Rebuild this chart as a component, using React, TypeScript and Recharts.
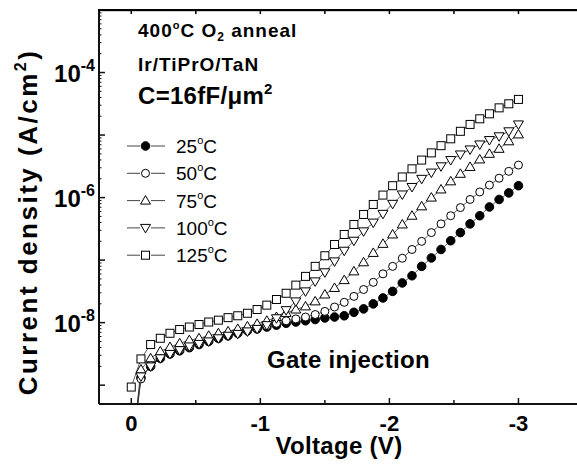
import React from 'react';
import { LineChart, Line, XAxis, YAxis } from 'recharts';

// gate voltage (V), 0 to -3 V sweep
const voltages = [
  0, -0.075, -0.15, -0.225, -0.3, -0.375, -0.45, -0.525, -0.6, -0.675,
  -0.75, -0.825, -0.9, -0.975, -1.05, -1.125, -1.2, -1.275, -1.35, -1.425,
  -1.5, -1.575, -1.65, -1.725, -1.8, -1.875, -1.95, -2.025, -2.1, -2.175,
  -2.25, -2.325, -2.4, -2.475, -2.55, -2.625, -2.7, -2.775, -2.85, -2.925, -3,
];

// current density, read as log10(A/cm2)
const logJ25 = [
  -10.0, -8.88, -8.7, -8.57, -8.5, -8.45, -8.4, -8.35, -8.3, -8.25,
  -8.21, -8.17, -8.13, -8.1, -8.07, -8.04, -8.01, -7.99, -7.97, -7.95,
  -7.925, -7.91, -7.89, -7.835, -7.78, -7.7, -7.605, -7.5, -7.365, -7.25,
  -7.1, -6.965, -6.83, -6.69, -6.56, -6.42, -6.29, -6.15, -6.03, -5.925, -5.81,
];
const logJ50 = [
  -10.1, -8.9, -8.68, -8.55, -8.48, -8.43, -8.38, -8.33, -8.28, -8.23,
  -8.19, -8.15, -8.12, -8.09, -8.05, -8.01, -7.97, -7.94, -7.91, -7.87,
  -7.82, -7.75, -7.675, -7.58, -7.47, -7.355, -7.22, -7.1, -6.97, -6.83,
  -6.7, -6.56, -6.42, -6.29, -6.16, -6.03, -5.91, -5.8, -5.69, -5.58, -5.48,
];
const logJ75 = [
  -10.2, -8.75, -8.57, -8.46, -8.39, -8.33, -8.28, -8.25, -8.21, -8.17,
  -8.14, -8.1, -8.06, -8.02, -7.97, -7.91, -7.845, -7.79, -7.74, -7.66,
  -7.55, -7.445, -7.32, -7.18, -7.035, -6.885, -6.74, -6.59, -6.43, -6.29,
  -6.14, -6.0, -5.87, -5.74, -5.62, -5.51, -5.39, -5.3, -5.22, -5.1, -4.99,
];
const logJ100 = [
  -10.3, -8.86, -8.7, -8.57, -8.5, -8.44, -8.38, -8.34, -8.3, -8.25,
  -8.21, -8.18, -8.14, -8.1, -8.04, -7.93, -7.8, -7.66, -7.5, -7.34,
  -7.195, -7.02, -6.85, -6.69, -6.54, -6.4, -6.26, -6.1, -5.95, -5.83,
  -5.7, -5.6, -5.5, -5.4, -5.31, -5.23, -5.15, -5.08, -5.02, -4.94, -4.83,
];
const logJ125 = [
  -9.03, -8.58, -8.35, -8.25, -8.17, -8.11, -8.07, -8.03, -7.99, -7.96,
  -7.92, -7.89, -7.85, -7.79, -7.72, -7.63, -7.53, -7.4, -7.26, -7.1,
  -6.93, -6.75, -6.59, -6.43, -6.27, -6.11, -5.96, -5.81, -5.67, -5.54,
  -5.4, -5.285, -5.17, -5.06, -4.94, -4.83, -4.74, -4.66, -4.565, -4.5, -4.43,
];

const seriesNames = ['25°C', '50°C', '75°C', '100°C', '125°C'];
const seriesLogs = [logJ25, logJ50, logJ75, logJ100, logJ125];
const seriesShapes = ['filled', 'circle', 'up', 'down', 'square'];

const xTicks = [0, -0.5, -1, -1.5, -2, -2.5, -3, -3.5];
const xLabeled = [0, -1, -2, -3];
const yDecades = [-9, -8, -7, -6, -5, -4, -3];
const yLabeled = [-8, -6, -4];

const X_DOMAIN = [-3.5, 0.25];
const Y_MIN = 5e-10;
const Y_MAX = 1e-3;

// chart frame
const CHART_W = 600;
const PLOT_LEFT = 99;
const PLOT_RIGHT_MARGIN = 17;
const PLOT_TOP = 10;

const yTicks: number[] = [];
yDecades.forEach((d) => {
  for (let m = 1; m <= 9; m++) {
    const v = m * Math.pow(10, d);
    if (v <= 1.0001e-3) yTicks.push(v);
  }
});

const data = voltages.map((v, i) => {
  const row: any = { v };
  seriesLogs.forEach((arr, k) => {
    row['s' + k] = Math.pow(10, arr[i]);
  });
  return row;
});

const FONT = 'Arial, "Liberation Sans", Helvetica, sans-serif';
const AXIS = '#111';

const marker = (shape: string, cx: number, cy: number, key?: any) => {
  const common = { stroke: '#000', strokeWidth: 1 };
  switch (shape) {
    case 'filled':
      return <circle key={key} cx={cx} cy={cy} r={4.3} fill="#000" {...common} />;
    case 'circle':
      return <circle key={key} cx={cx} cy={cy} r={4} fill="#fff" {...common} />;
    case 'up':
      return (
        <path key={key} d={`M${cx - 5},${cy + 3.5}L${cx + 5},${cy + 3.5}L${cx},${cy - 5}Z`} fill="#fff" {...common} />
      );
    case 'down':
      return (
        <path key={key} d={`M${cx - 5},${cy - 3.5}L${cx + 5},${cy - 3.5}L${cx},${cy + 5}Z`} fill="#fff" {...common} />
      );
    default:
      return <rect key={key} x={cx - 4} y={cy - 4} width={8} height={8} fill="#fff" {...common} />;
  }
};

const XTick = (props: any) => {
  const { x, y, payload } = props;
  const v = payload.value;
  const major = Number.isInteger(v);
  return (
    <g>
      <line x1={x} x2={x} y1={y} y2={y - (major ? 6 : 4)} stroke={AXIS} strokeWidth={1.5} />
      {xLabeled.includes(v) && (
        <text x={x} y={y + 26.5} textAnchor="middle" fontFamily={FONT} fontWeight="bold" fontSize={22} fill="#000">
          {v === 0 ? '0' : String(v)}
        </text>
      )}
    </g>
  );
};

const YTick = (props: any) => {
  const { x, y, payload } = props;
  const v = payload.value;
  const exp = Math.round(Math.log10(v));
  const major = Math.abs(v / Math.pow(10, exp) - 1) < 1e-6;
  return (
    <g>
      <line x1={x} x2={x + (major ? 6 : 2.5)} y1={y} y2={y} stroke={AXIS} strokeWidth={major ? 1.5 : 1} />
      {major && yLabeled.includes(exp) && (
        <text x={x - 4} y={y + 9} textAnchor="end" fontFamily={FONT} fontWeight="bold" fontSize={24} fill="#000">
          10
          <tspan dy={-11} fontSize={16}>
            {String(exp)}
          </tspan>
        </text>
      )}
    </g>
  );
};

// top frame (mirror of the voltage axis, ticks only)
const topX = (v: number) => {
  const w = CHART_W - PLOT_RIGHT_MARGIN - PLOT_LEFT;
  return PLOT_LEFT + ((X_DOMAIN[1] - v) / (X_DOMAIN[1] - X_DOMAIN[0])) * w;
};

const Overlay = () => (
  <svg
    width={577}
    height={464}
    viewBox="0 0 577 464"
    style={{ position: 'absolute', left: 0, top: 0, pointerEvents: 'none' }}
  >
    <rect x={PLOT_LEFT - 1} y={PLOT_TOP - 1} width={CHART_W - PLOT_LEFT} height={2.2} fill="#000" />
    {xTicks.map((t) => (
      <rect key={t} x={topX(t) - 0.75} y={PLOT_TOP} width={1.5} height={4} fill="#000" />
    ))}
    <g fontFamily={FONT} fill="#000">
      <text x={138} y={37} fontWeight="bold" fontSize={19} letterSpacing={1}>
        400
        <tspan fontSize={11} dy={-8}>o</tspan>
        <tspan dy={8}>C O</tspan>
        <tspan fontSize={12} dy={4}>2</tspan>
        <tspan dy={-4}> anneal</tspan>
      </text>
      <text x={138} y={71} fontWeight="bold" fontSize={19} letterSpacing={1}>Ir/TiPrO/TaN</text>
      <text x={138} y={104} fontWeight="bold" fontSize={24} letterSpacing={0.3}>
        C=16fF/μm
        <tspan fontSize={15} dy={-10}>2</tspan>
      </text>
      <text x={267} y={368} fontWeight="bold" fontSize={24} letterSpacing={0.3}>Gate injection</text>
      <text x={339} y={454} fontWeight="bold" fontSize={24} textAnchor="middle" letterSpacing={0.3}>
        Voltage (V)
      </text>
      <text
        transform="translate(37,222) rotate(-90)"
        fontWeight="bold"
        fontSize={26}
        letterSpacing={2.5}
        textAnchor="middle"
      >
        Current density (A/cm
        <tspan fontSize={16} dy={-11}>2</tspan>
        <tspan dy={11}>)</tspan>
      </text>
      {seriesNames.map((name, i) => {
        const cy = 146 + i * 27.3;
        return (
          <g key={name}>
            <line x1={127} x2={140} y1={cy} y2={cy} stroke="#444" strokeWidth={1} />
            <line x1={151} x2={165} y1={cy} y2={cy} stroke="#444" strokeWidth={1} />
            {marker(seriesShapes[i], 145.5, cy)}
            <text x={176} y={cy + 7} fontSize={19}>
              {name.replace('°C', '')}
              <tspan fontSize={11} dy={-9}>o</tspan>
              <tspan dy={9}>C</tspan>
            </text>
          </g>
        );
      })}
    </g>
  </svg>
);

export default function App() {
  return (
    <div
      style={{
        position: 'fixed',
        left: 0,
        top: 0,
        width: 577,
        height: 464,
        overflow: 'hidden',
        background: '#fff',
      }}
    >
      <LineChart
        width={CHART_W}
        height={464}
        data={data}
        margin={{ top: PLOT_TOP, right: PLOT_RIGHT_MARGIN, left: 0, bottom: 0 }}
      >
        <XAxis
          dataKey="v"
          type="number"
          domain={X_DOMAIN}
          reversed
          allowDataOverflow
          ticks={xTicks}
          interval={0}
          height={60}
          tickSize={0}
          tickMargin={0}
          tickLine={false}
          axisLine={{ stroke: AXIS, strokeWidth: 2 }}
          tick={<XTick />}
        />
        <YAxis
          type="number"
          scale="log"
          domain={[Y_MIN, Y_MAX]}
          allowDataOverflow
          ticks={yTicks}
          interval={0}
          width={PLOT_LEFT}
          tickSize={0}
          tickMargin={0}
          tickLine={false}
          axisLine={{ stroke: AXIS, strokeWidth: 2 }}
          tick={<YTick />}
        />
        {seriesShapes.map((shape, k) => (
          <Line
            key={shape}
            dataKey={'s' + k}
            stroke="#333"
            strokeWidth={0.8}
            isAnimationActive={false}
            dot={(p: any) => marker(shape, p.cx, p.cy, 'd' + k + '-' + p.index)}
            activeDot={false}
          />
        ))}
      </LineChart>
      <Overlay />
    </div>
  );
}
